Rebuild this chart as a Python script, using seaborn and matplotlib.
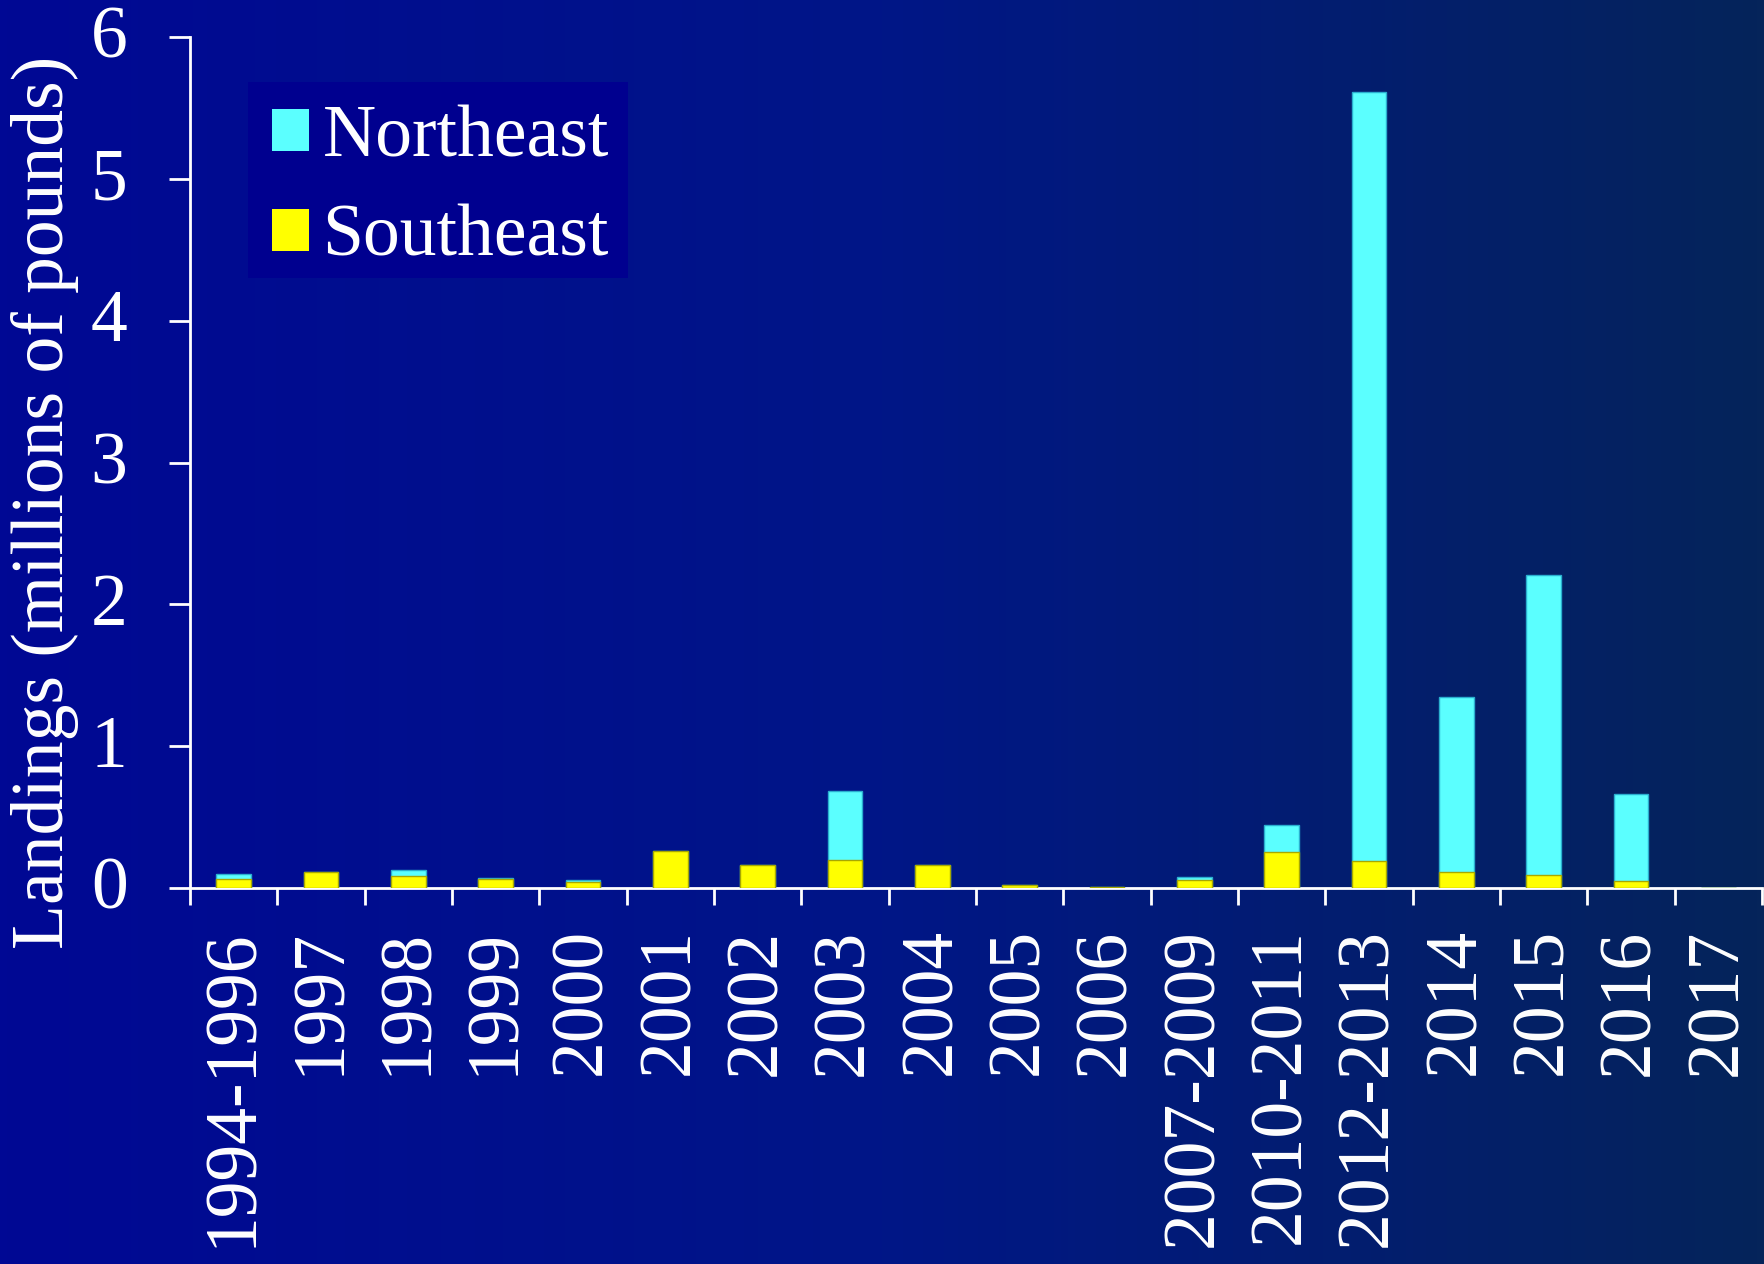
import numpy as np
import pandas as pd
import matplotlib
matplotlib.use("Agg")
import matplotlib.pyplot as plt
import matplotlib.transforms as mtransforms
from matplotlib.patches import Patch, Rectangle
from matplotlib.colors import LinearSegmentedColormap
import seaborn as sns

categories = ["1994-1996", "1997", "1998", "1999", "2000", "2001", "2002", "2003",
              "2004", "2005", "2006", "2007-2009", "2010-2011", "2012-2013",
              "2014", "2015", "2016", "2017"]
southeast = [0.066, 0.110, 0.087, 0.065, 0.040, 0.264, 0.165, 0.198,
             0.162, 0.021, 0.010, 0.054, 0.254, 0.188,
             0.110, 0.092, 0.052, 0.0]
northeast = [0.033, 0.0, 0.040, 0.004, 0.016, 0.0, 0.0, 0.489,
             0.0, 0.0, 0.0, 0.021, 0.193, 5.422,
             1.235, 2.113, 0.609, 0.0]
yticks = [0, 1, 2, 3, 4, 5, 6]

df = pd.DataFrame({"category": categories, "Southeast": southeast, "Northeast": northeast})
df["total"] = df["Southeast"] + df["Northeast"]

sns.set_theme(style="white")
plt.rcParams["font.family"] = ["Liberation Serif", "DejaVu Serif"]

W, H = 1764, 1264
fig = plt.figure(figsize=(W / 100, H / 100), dpi=100)

# gradient background
bg = fig.add_axes([0, 0, 1, 1], zorder=-10)
cmap = LinearSegmentedColormap.from_list(
    "bgrad", [(0.0, (0/255, 8/255, 148/255)), (0.5, (0/255, 22/255, 135/255)),
              (1.0, (5/255, 36/255, 90/255))])
grad = np.linspace(0, 1, 512).reshape(1, -1)
bg.imshow(grad, aspect="auto", cmap=cmap, extent=[0, 1, 0, 1])
bg.set_axis_off()

ax = fig.add_axes([190 / W, 1 - 888 / H, (1762 - 190) / W, (888 - 37) / H])
ax.patch.set_alpha(0)

cyan = "#5BFFFF"
yellow = "#FFFF00"
sns.barplot(data=df, x="category", y="total", color=cyan, width=0.4, saturation=1,
            edgecolor="#2AAFCF", linewidth=1.0, ax=ax, zorder=3)
sns.barplot(data=df, x="category", y="Southeast", color=yellow, width=0.4, saturation=1,
            edgecolor="#A8A800", linewidth=1.0, ax=ax, zorder=4)

n = len(categories)
ax.set_xlim(-0.5, n - 0.5)
ax.set_ylim(0, 6)
ax.set_yticks(yticks)
ax.set_yticklabels([str(v) for v in yticks])

fs = 53
white = "white"
ax.set_xticks(range(n))
ax.set_xticklabels(categories, rotation=90, fontsize=fs, color=white)
ax.set_xticks(np.arange(-0.5, n, 1.0), minor=True)
ax.tick_params(axis="x", which="major", bottom=True, length=0, pad=29)
ax.tick_params(axis="x", which="minor", bottom=True, length=12, width=2, color=white,
               direction="out")
ax.tick_params(axis="y", which="major", left=True, length=15, width=2, color=white, pad=30,
               labelsize=fs, labelcolor=white, direction="out")
for lbl in ax.get_xticklabels():
    lbl.set_va("top")
offset = mtransforms.ScaledTranslation(0, 5 / 100, fig.dpi_scale_trans)
for lbl in ax.get_yticklabels():
    lbl.set_transform(lbl.get_transform() + offset)

for side in ["top", "right"]:
    ax.spines[side].set_visible(False)
for side in ["left", "bottom"]:
    ax.spines[side].set_color(white)
    ax.spines[side].set_linewidth(2)

ax.set_xlabel("")
ax.set_ylabel("Landings (millions of pounds)", fontsize=fs, color=white)
ax.yaxis.label.set_va("center")
ax.yaxis.set_label_coords(-0.092, 0.4527)

# legend background box
ax.add_patch(Rectangle((0.0366, 0.7168), 0.2786 - 0.0366, 0.9471 - 0.7168,
                       transform=ax.transAxes, facecolor="#00008F", edgecolor="none",
                       zorder=6, clip_on=False))
handles = [Patch(facecolor=cyan, edgecolor="none", label="Northeast"),
           Patch(facecolor=yellow, edgecolor="none", label="Southeast")]
leg = ax.legend(handles=handles, loc="upper left", bbox_to_anchor=(0.0417, 0.939),
                fontsize=fs, frameon=False, borderpad=0.22,
                handlelength=0.5, handleheight=0.5, handletextpad=0.19,
                labelspacing=0.43, borderaxespad=0)
leg.set_zorder(7)
for t in leg.get_texts():
    t.set_color(white)

fig.savefig("out.png", dpi=100)
